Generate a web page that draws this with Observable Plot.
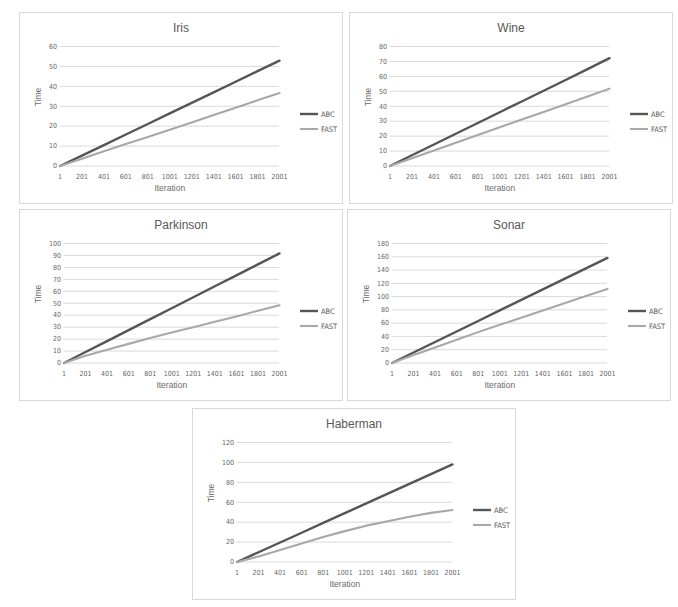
<!DOCTYPE html>
<html>
<head>
<meta charset="utf-8">
<script src="https://cdn.jsdelivr.net/npm/d3@7"></script>
<script src="https://cdn.jsdelivr.net/npm/@observablehq/plot@0.6"></script>
<style>
  html, body { margin: 0; padding: 0; background: #fff; }
  #root { position: relative; width: 678px; height: 607px; }
  .panel { position: absolute; width: 324px; height: 192px; box-sizing: border-box; border: 1px solid #d9d9d9; background: #fff; }
  .title { position: absolute; left: 0; top: 0; width: 100%; padding-top: 8px; line-height: 14px; text-align: center;
           font-family: "Liberation Sans", Arial, sans-serif; font-size: 12px; color: #595959; }
  .plot { position: absolute; left: 0; top: 26px; }
  .legend { position: absolute; left: 280px; top: 94px; font-family: "Liberation Sans Narrow", "DejaVu Sans Condensed", "Liberation Sans", sans-serif;
            font-size: 7.5px; color: #595959; }
  .legend .row { display: flex; align-items: center; height: 14.7px; }
  .legend svg { margin-right: 3px; }
</style>
</head>
<body>
<div id="root"></div>
<script>
// ---- data ----
const iterations = [1, 201, 401, 601, 801, 1001, 1201, 1401, 1601, 1801, 2001];
const series = ["ABC", "FAST"];
const datasetNames = ["Iris", "Wine", "Parkinson", "Sonar", "Haberman"];

const irisABC  = [0, 5.2, 10.5, 15.8, 21.1, 26.4, 31.7, 37.0, 42.3, 47.6, 52.9];
const irisFAST = [0, 3.7, 7.4, 11.0, 14.6, 18.2, 21.9, 25.6, 29.3, 33.0, 36.6];

const wineABC  = [0, 7.2, 14.4, 21.6, 28.8, 36.0, 43.2, 50.4, 57.6, 64.9, 72.2];
const wineFAST = [0, 5.2, 10.4, 15.6, 20.7, 25.9, 31.1, 36.2, 41.4, 46.6, 51.8];

const parkinsonABC  = [0, 9.2, 18.3, 27.5, 36.7, 45.8, 55.0, 64.2, 73.3, 82.5, 91.7];
const parkinsonFAST = [0, 6.0, 11.0, 16.0, 21.0, 25.5, 30.0, 34.5, 39.0, 43.7, 48.3];

const sonarABC  = [0, 15.8, 31.7, 47.5, 63.3, 79.2, 95.0, 110.8, 126.6, 142.5, 158.3];
const sonarFAST = [0, 12.0, 23.5, 35.0, 46.5, 57.5, 68.0, 79.0, 90.0, 101.0, 111.6];

const habermanABC  = [0, 9.8, 19.6, 29.4, 39.2, 49.0, 58.8, 68.6, 78.4, 88.2, 98.0];
const habermanFAST = [0, 5.5, 12.0, 18.5, 25.0, 31.0, 36.5, 41.0, 45.5, 49.3, 52.2];

const irisTicks      = [0, 10, 20, 30, 40, 50, 60];
const wineTicks      = [0, 10, 20, 30, 40, 50, 60, 70, 80];
const parkinsonTicks = [0, 10, 20, 30, 40, 50, 60, 70, 80, 90, 100];
const sonarTicks     = [0, 20, 40, 60, 80, 100, 120, 140, 160, 180];
const habermanTicks  = [0, 20, 40, 60, 80, 100, 120];

// ---- layout ----
const panelValues = [
  [irisABC, irisFAST, irisTicks],
  [wineABC, wineFAST, wineTicks],
  [parkinsonABC, parkinsonFAST, parkinsonTicks],
  [sonarABC, sonarFAST, sonarTicks],
  [habermanABC, habermanFAST, habermanTicks]
];
const panelPos = [[19, 12], [349, 12], [19, 209], [347, 209], [192, 408]];
const colors = {ABC: "#555555", FAST: "#a8a8a8"};
const widths = {ABC: 2.4, FAST: 2.1};

const root = document.getElementById("root");

datasetNames.forEach((name, i) => {
  const [abc, fast, yTicks] = panelValues[i];
  const rows = [];
  iterations.forEach((it, k) => {
    rows.push({series: "ABC", iteration: it, time: abc[k]});
    rows.push({series: "FAST", iteration: it, time: fast[k]});
  });
  const maxDigits = d3.max(yTicks, t => String(t).length);
  const marginLeft = maxDigits >= 3 ? 43.5 : 39.5;

  const panel = document.createElement("div");
  panel.className = "panel";
  panel.style.left = panelPos[i][0] + "px";
  panel.style.top = panelPos[i][1] + "px";

  const title = document.createElement("div");
  title.className = "title";
  title.textContent = name;
  panel.appendChild(title);

  const chart = Plot.plot({
    width: 322,
    height: 166,
    marginTop: 7,
    marginBottom: 39.5,
    marginLeft,
    marginRight: 63,
    style: {fontFamily: '"Liberation Sans Narrow", "DejaVu Sans Condensed", "Liberation Sans", sans-serif', fontSize: "7px", color: "#666666", background: "transparent", overflow: "visible"},
    x: {domain: [iterations[0], iterations[iterations.length - 1]]},
    y: {domain: [yTicks[0], yTicks[yTicks.length - 1]]},
    color: {domain: series, range: series.map(s => colors[s])},
    marks: [
      Plot.ruleY(yTicks, {stroke: "#d9d9d9", strokeWidth: 1}),
      Plot.axisY({ticks: yTicks, tickSize: 0, tickPadding: 3, label: null, tickFormat: d => String(d)}),
      Plot.axisX({ticks: iterations, tickSize: 0, tickPadding: 8.5, label: null, tickFormat: d => String(d)}),
      ...series.map(s => Plot.line(rows.filter(r => r.series === s), {
        x: "iteration", y: "time", stroke: colors[s], strokeWidth: widths[s], strokeLinejoin: "round"
      })),
      Plot.text(["Iteration"], {text: d => d, frameAnchor: "bottom", dy: 25, fontSize: 8.5, fill: "#6b6b6b",
        fontFamily: '"Liberation Sans", Arial, sans-serif'}),
      Plot.text(["Time"], {text: d => d, frameAnchor: "left", dx: 17.5 - marginLeft, rotate: -90, fontSize: 8.5, fill: "#6b6b6b",
        fontFamily: '"Liberation Sans", Arial, sans-serif'})
    ]
  });
  chart.classList.add("plot");
  panel.appendChild(chart);

  const legend = document.createElement("div");
  legend.className = "legend";
  series.forEach(s => {
    const row = document.createElement("div");
    row.className = "row";
    row.innerHTML = `<svg width="18" height="6"><line x1="0" x2="18" y1="3" y2="3" stroke="${colors[s]}" stroke-width="${widths[s]}"/></svg><span>${s}</span>`;
    legend.appendChild(row);
  });
  panel.appendChild(legend);

  root.appendChild(panel);
});
</script>
</body>
</html>
